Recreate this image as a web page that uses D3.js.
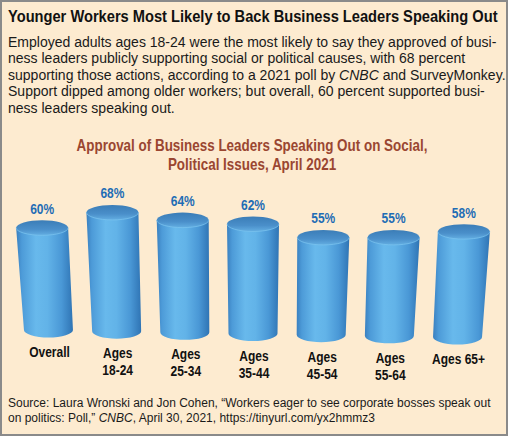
<!DOCTYPE html>
<html>
<head>
<meta charset="utf-8">
<script src="https://cdn.jsdelivr.net/npm/d3@7"></script>
<style>
  html, body { margin: 0; padding: 0; background: #fdebd0; }
  svg { display: block; }
</style>
</head>
<body>
<svg id="chart" width="508" height="436"></svg>
<script>
// ---------- data ----------
const categories = ["Overall", "Ages 18-24", "Ages 25-34", "Ages 35-44", "Ages 45-54", "Ages 55-64", "Ages 65+"];
const labelLines = [["Overall"], ["Ages", "18-24"], ["Ages", "25-34"], ["Ages", "35-44"], ["Ages", "45-54"], ["Ages", "55-64"], ["Ages 65+"]];
const values = [60, 68, 64, 62, 55, 55, 58];
const valueLabels = ["60%", "68%", "64%", "62%", "55%", "55%", "58%"];

const titleText = "Younger Workers Most Likely to Back Business Leaders Speaking Out";
const introLines = [
  "Employed adults ages 18-24 were the most likely to say they approved of busi-",
  "ness leaders publicly supporting social or political causes, with 68 percent",
  [["supporting those actions, according to a 2021 poll by ", false], ["CNBC", true], [" and SurveyMonkey.", false]],
  "Support dipped among older workers; but overall, 60 percent supported busi-",
  "ness leaders speaking out."
];
const chartTitleLines = ["Approval of Business Leaders Speaking Out on Social,", "Political Issues, April 2021"];
const sourceLines = [
  [["Source: Laura Wronski and Jon Cohen, \u201cWorkers eager to see corporate bosses speak out", false]],
  [["on politics: Poll,\u201d ", false], ["CNBC", true], [", April 30, 2021, https://tinyurl.com/yx2hmmz3", false]]
];

// ---------- setup ----------
const W = 508, H = 436;
const svg = d3.select("#chart");
const sans = "'Liberation Sans', Arial, Helvetica, sans-serif";
const CONDENSE = 0.8;

svg.append("rect").attr("x", 0).attr("y", 0).attr("width", W).attr("height", H)
  .attr("fill", "#fdebd0");
svg.append("rect").attr("x", 1).attr("y", 1).attr("width", W - 2).attr("height", H - 2)
  .attr("fill", "none").attr("stroke", "#8a8a8a").attr("stroke-width", 2);

// condensed bold text helper (horizontal scale of Liberation Sans Bold)
function condText(g, x, y, str, size, anchor, fill, sx) {
  return g.append("text")
    .attr("transform", `translate(${x},${y}) scale(${sx},1)`)
    .attr("text-anchor", anchor)
    .attr("font-family", sans).attr("font-weight", "bold").attr("font-size", size)
    .attr("fill", fill).text(str);
}

// title: scale to span 8..498
{
  const t = condText(svg, 8, 22, titleText, 17, "start", "#111", 1);
  const w = t.node().getComputedTextLength();
  t.attr("transform", `translate(8,22) scale(${490 / w},1)`);
}

// intro paragraph
function addRichLine(g, parts, x, y, size, family) {
  const t = g.append("text").attr("x", x).attr("y", y)
    .attr("font-family", family).attr("font-size", size).attr("fill", "#1a1a1a");
  if (typeof parts === "string") { t.text(parts); return t; }
  parts.forEach(([s, it]) => t.append("tspan").attr("font-style", it ? "italic" : "normal").text(s));
  return t;
}
{
  const intro = svg.append("g");
  const nodes = introLines.map((l, i) => addRichLine(intro, l, 0, 47 + i * 16.4, 14.5, sans));
  const w = nodes[0].node().getComputedTextLength();
  intro.attr("transform", `translate(8,0) scale(${489 / w},1)`);
}

// chart title
chartTitleLines.forEach((l, i) => {
  condText(svg, 252, 151 + i * 19, l, 16, "middle", "#9a4631", 0.84);
});

// ---------- scales ----------
const x = d3.scaleBand().domain(categories).range([7, 499]).padding(0);
const y = d3.scaleLinear().domain([0, 100]).range([343, 151]);
const midX = 253;

// gradients
const defs = svg.append("defs");
const bodyGrad = defs.append("linearGradient").attr("id", "bodyGrad")
  .attr("x1", "0%").attr("x2", "100%").attr("y1", "0%").attr("y2", "0%");
[["0%", "#3a80c0"], ["10%", "#4d9bd8"], ["35%", "#68b9ec"], ["55%", "#62b3e8"], ["80%", "#4a98d6"], ["100%", "#2f74b4"]]
  .forEach(([o, c]) => bodyGrad.append("stop").attr("offset", o).attr("stop-color", c));
const topGrad = defs.append("linearGradient").attr("id", "topGrad")
  .attr("x1", "0%").attr("x2", "0%").attr("y1", "0%").attr("y2", "100%");
[["0%", "#3b7db7"], ["60%", "#4a8fca"], ["100%", "#63aee2"]]
  .forEach(([o, c]) => topGrad.append("stop").attr("offset", o).attr("stop-color", c));

const rxTop = 26, rxBot = 24.5, ry = 7.5;

const bars = svg.append("g").selectAll("g").data(categories).join("g");

bars.each(function (c, i) {
  const g = d3.select(this);
  const tx = x(c) + x.bandwidth() / 2;
  const ty = y(values[i]);
  const bx = tx - (tx - midX) * 0.03;
  const by = 330 + (tx - 42) / 422 * 7;

  g.append("path")
    .attr("d", `M${tx - rxTop},${ty} L${bx - rxBot},${by} A${rxBot},${ry} 0 0 0 ${bx + rxBot},${by} L${tx + rxTop},${ty} Z`)
    .attr("fill", "url(#bodyGrad)");
  g.append("ellipse").attr("cx", tx).attr("cy", ty).attr("rx", rxTop).attr("ry", ry)
    .attr("fill", "url(#topGrad)");
  g.append("path")
    .attr("d", `M${tx - rxTop},${ty} A${rxTop},${ry} 0 0 0 ${tx + rxTop},${ty}`)
    .attr("fill", "none").attr("stroke", "#7cc4f0").attr("stroke-width", 1).attr("opacity", 0.7);

  // value label
  condText(g, tx, ty - 14, valueLabels[i], 15, "middle", "#1f6db5", CONDENSE);

  // category label
  labelLines[i].forEach((l, j) => {
    condText(g, bx + 1, by + 27 + j * 17, l, 15, "middle", "#111", CONDENSE);
  });
});

// source
const src = svg.append("g");
sourceLines.forEach((l, i) => addRichLine(src, l, 8, 407 + i * 14.5, 12, sans));
</script>
</body>
</html>
